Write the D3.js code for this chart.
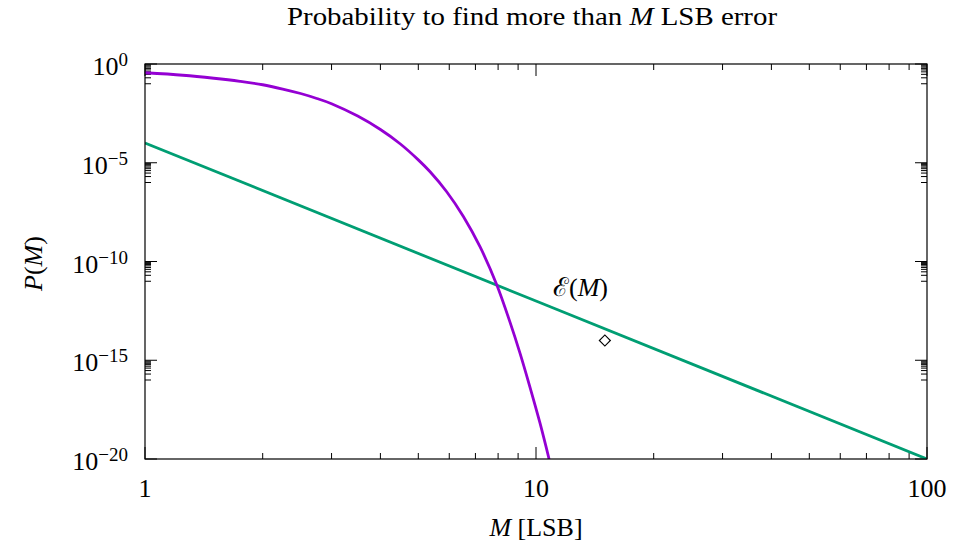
<!DOCTYPE html>
<html>
<head>
<meta charset="utf-8">
<script src="https://cdn.jsdelivr.net/npm/d3@7"></script>
<style>
  body { margin: 0; background: #fff; }
  text { font-family: "Liberation Serif", "DejaVu Serif", serif; fill: #000; }
</style>
</head>
<body>
<script>
// Probability curve P(M)
const probM = [1, 1.25, 1.5, 1.75, 2, 2.25, 2.5, 2.75, 3, 3.5, 4, 4.5, 5, 5.36, 5.91, 6.52, 7.19, 7.94, 8.58, 9.1, 9.65, 10.24, 10.8];
const probP = [3.6e-1, 2.7e-1, 1.9e-1, 1.32e-1, 8.9e-2, 5.4e-2, 3.2e-2, 1.8e-2, 9.8e-3, 2.3e-3, 4.8e-4, 8.9e-5, 1.4e-5, 3.5e-6, 3.4e-7, 1.9e-8, 5.6e-10, 6.5e-12, 8.5e-14, 2.3e-15, 4.4e-17, 6.5e-19, 1e-20];

// Error bound E(M)
const boundM = [1, 10, 100];
const boundP = [1e-4, 1e-12, 1e-20];

// single marker
const markM = [15];
const markP = [1e-14];

const xTickValues = [1, 10, 100];
const yTickExps = [0, -5, -10, -15, -20];

const margin = { top: 64, right: 37, bottom: 88, left: 145 };
const width = 964 - margin.left - margin.right;
const height = 547 - margin.top - margin.bottom;

const svg = d3.select("body").append("svg")
    .attr("width", 964)
    .attr("height", 547);

const g = svg.append("g")
    .attr("transform", "translate(" + margin.left + "," + margin.top + ")");

const x = d3.scaleLog().domain([1, 100]).range([0, width]);
const y = d3.scaleLog().domain([1e-20, 1]).range([height, 0]);

g.append("clipPath").attr("id", "clip")
  .append("rect").attr("width", width).attr("height", height);

// ticks, mirrored on all four sides
const majorLen = 12, minorLen = 6;
const xMinor = [];
[1, 10].forEach(b => { for (let k = 2; k <= 9; k++) xMinor.push(b * k); });
const yMinor = [];
yTickExps.slice(0, -1).forEach(e => { for (let k = 1; k <= 9; k++) yMinor.push(k * Math.pow(10, e - 1)); });

const ticks = g.append("g").attr("stroke", "#000").attr("stroke-width", 1);
xTickValues.concat(xMinor).forEach(v => {
  const len = xTickValues.includes(v) ? majorLen : minorLen;
  ticks.append("line").attr("x1", x(v)).attr("x2", x(v)).attr("y1", height).attr("y2", height - len);
  ticks.append("line").attr("x1", x(v)).attr("x2", x(v)).attr("y1", 0).attr("y2", len);
});
yTickExps.map(e => ({ v: Math.pow(10, e), len: majorLen }))
  .concat(yMinor.map(v => ({ v: v, len: minorLen })))
  .forEach(t => {
    ticks.append("line").attr("x1", 0).attr("x2", t.len).attr("y1", y(t.v)).attr("y2", y(t.v));
    ticks.append("line").attr("x1", width).attr("x2", width - t.len).attr("y1", y(t.v)).attr("y2", y(t.v));
  });

// tick labels
g.selectAll(".xlab").data(xTickValues).enter().append("text")
    .attr("x", d => x(d))
    .attr("y", height + 38)
    .attr("text-anchor", "middle")
    .style("font-size", "26px")
    .text(d => d);

const ylab = g.selectAll(".ylab").data(yTickExps).enter().append("text")
    .attr("x", -17)
    .attr("y", d => y(Math.pow(10, d)) + 11)
    .attr("text-anchor", "end")
    .style("font-size", "26px");
ylab.append("tspan").text("10");
ylab.append("tspan")
    .attr("dy", -9)
    .style("font-size", "19px")
    .text(d => (d < 0 ? "\u2212" + (-d) : d));

// curves
const line = d3.line().x(d => x(d[0])).y(d => y(d[1]));
const plot = g.append("g").attr("clip-path", "url(#clip)");

plot.append("path")
    .datum(d3.zip(boundM, boundP))
    .attr("d", line)
    .attr("fill", "none")
    .attr("stroke", "#009e73")
    .attr("stroke-width", 2.8);

plot.append("path")
    .datum(d3.zip(probM, probP))
    .attr("d", line.curve(d3.curveCatmullRom.alpha(0.5)))
    .attr("fill", "none")
    .attr("stroke", "#9400d3")
    .attr("stroke-width", 2.8);

plot.selectAll(".mark").data(d3.zip(markM, markP)).enter().append("path")
    .attr("transform", d => "translate(" + x(d[0]) + "," + y(d[1]) + ") rotate(45)")
    .attr("d", d3.symbol(d3.symbolSquare, 60))
    .attr("fill", "none")
    .attr("stroke", "#000")
    .attr("stroke-width", 1.2);

// frame
g.append("rect")
    .attr("width", width).attr("height", height)
    .attr("fill", "none").attr("stroke", "#000").attr("stroke-width", 1.2);

// labels
const eLab = g.append("text")
    .attr("x", 408)
    .attr("y", 232)
    .style("font-size", "26px");
eLab.append("tspan").text("\u2130");
eLab.append("tspan").text("(");
eLab.append("tspan").style("font-style", "italic").text("M");
eLab.append("tspan").text(")");

const title = svg.append("text")
    .attr("x", margin.left + width / 2 - 4)
    .attr("y", 25)
    .attr("text-anchor", "middle")
    .attr("textLength", 490)
    .attr("lengthAdjust", "spacingAndGlyphs")
    .style("font-size", "25px");
title.append("tspan").text("Probability to find more than ");
title.append("tspan").style("font-style", "italic").text("M");
title.append("tspan").text(" LSB error");

const xt = svg.append("text")
    .attr("x", margin.left + width / 2)
    .attr("y", 536)
    .attr("text-anchor", "middle")
    .style("font-size", "26px");
xt.append("tspan").style("font-style", "italic").text("M");
xt.append("tspan").text(" [LSB]");

const yt = svg.append("text")
    .attr("transform", "translate(42," + (margin.top + height / 2 + 2) + ") rotate(-90)")
    .attr("text-anchor", "middle")
    .style("font-size", "26px");
yt.append("tspan").style("font-style", "italic").text("P");
yt.append("tspan").text("(");
yt.append("tspan").style("font-style", "italic").text("M");
yt.append("tspan").text(")");
</script>
</body>
</html>
